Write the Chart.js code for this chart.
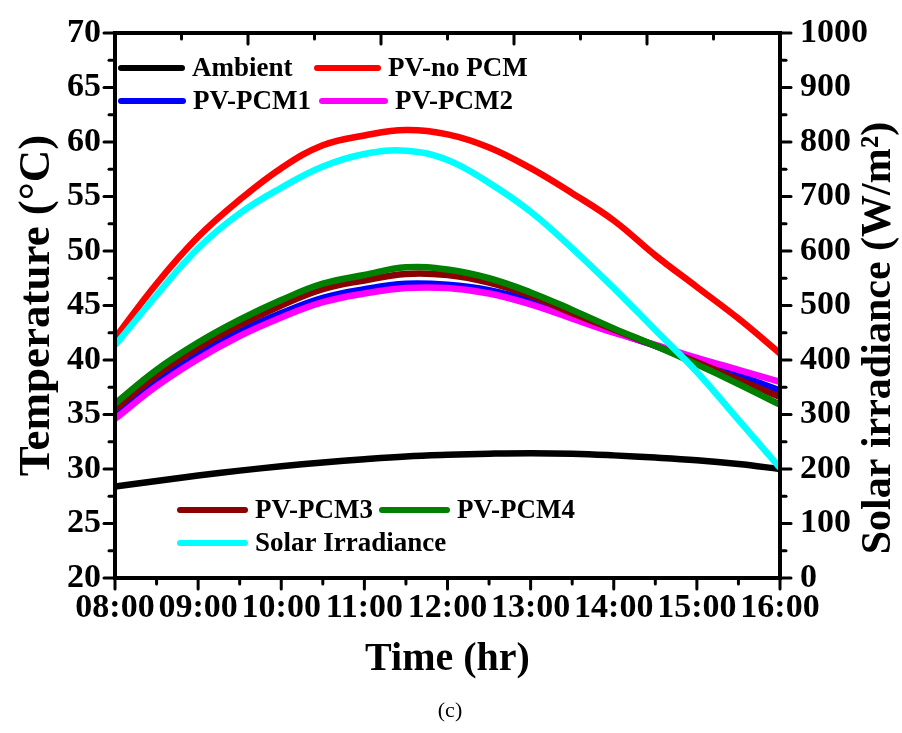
<!DOCTYPE html>
<html>
<head>
<meta charset="utf-8">
<script src="https://cdn.jsdelivr.net/npm/chart.js@4.4.1/dist/chart.umd.min.js"></script>
<style>
  html, body { margin: 0; padding: 0; background: #fff; }
</style>
</head>
<body>
<canvas id="c" width="902" height="733"></canvas>
<script>
// half-hour samples, 08:00 .. 16:00
const hours = [8, 8.5, 9, 9.5, 10, 10.5, 11, 11.5, 12, 12.5, 13, 13.5, 14, 14.5, 15, 15.5, 16];
const timeLabels = ['08:00', '09:00', '10:00', '11:00', '12:00', '13:00', '14:00', '15:00', '16:00'];

const ambient = [28.4, 28.9, 29.4, 29.85, 30.25, 30.6, 30.9, 31.15, 31.3, 31.4, 31.45, 31.4, 31.25, 31.05, 30.8, 30.45, 30.0];
const pvNoPcm = [42.0, 47.0, 51.3, 54.7, 57.6, 59.7, 60.6, 61.1, 60.7, 59.5, 57.6, 55.3, 52.8, 49.6, 46.7, 43.8, 40.6];
const pvPcm1 = [35.0, 38.0, 40.5, 42.6, 44.3, 45.7, 46.5, 47.0, 46.9, 46.4, 45.4, 44.0, 42.6, 41.3, 40.0, 38.6, 37.2];
const pvPcm2 = [34.6, 37.6, 40.1, 42.2, 43.9, 45.3, 46.1, 46.6, 46.6, 46.1, 45.1, 43.8, 42.5, 41.4, 40.2, 39.1, 38.0];
const pvPcm3 = [35.5, 38.6, 41.1, 43.2, 45.0, 46.5, 47.3, 47.9, 47.8, 47.1, 45.9, 44.3, 42.8, 41.3, 39.8, 38.2, 36.6];
const pvPcm4 = [36.0, 39.1, 41.6, 43.7, 45.5, 47.0, 47.8, 48.5, 48.3, 47.5, 46.2, 44.6, 42.9, 41.3, 39.6, 37.8, 35.9];
const solar = [427, 519, 605, 669, 716, 755, 778, 784, 767, 725, 672, 605, 532, 455, 378, 290, 202];

const serif = '"Liberation Serif", "Times New Roman", serif';

function pts(arr) {
  return hours.map((h, i) => ({ x: h, y: arr[i] }));
}

function series(label, arr, color, order, axis) {
  return {
    label: label,
    data: pts(arr),
    borderColor: color,
    backgroundColor: color,
    borderWidth: 6.5,
    pointRadius: 0,
    tension: 0.4,
    yAxisID: axis || 'y',
    order: order
  };
}

// legend boxes drawn by hand: two groups inside the plot
const legendSpots = [
  { i: 0, x: 121, y: 68, w: 61 },
  { i: 1, x: 317, y: 68, w: 61 },
  { i: 2, x: 121, y: 101, w: 62 },
  { i: 3, x: 322, y: 101, w: 63 },
  { i: 4, x: 180, y: 510, w: 65 },
  { i: 5, x: 382, y: 510, w: 65 },
  { i: 6, x: 180, y: 543, w: 65 }
];

// keep the plot box fixed: no extra room above/below for end labels
function fitVertical(width) {
  return s => {
    s.width = width;
    s.paddingTop = 0;
    s.paddingBottom = 0;
  };
}

const framePlugin = {
  id: 'frame',
  afterDatasetsDraw(chart) {
    const { ctx, chartArea: a, scales } = chart;
    const tick = (x1, y1, x2, y2) => {
      ctx.beginPath(); ctx.moveTo(x1, y1); ctx.lineTo(x2, y2); ctx.stroke();
    };
    ctx.save();
    ctx.strokeStyle = '#000';
    ctx.lineWidth = 3;
    ctx.lineCap = 'round';
    hours.forEach(h => {
      const x = scales.x.getPixelForValue(h);
      tick(x, a.bottom, x, a.bottom + (Number.isInteger(h) ? 11 : 6));
    });
    for (let k = 0; k <= 10; k++) {
      const x = scales.x.getPixelForValue(8 + k * 0.8);
      tick(x, a.top, x, a.top + (k % 2 === 0 ? 11 : 6));
    }
    for (let t = 20; t <= 70; t += 2.5) {
      const y = scales.y.getPixelForValue(t);
      tick(a.left - (t % 5 === 0 ? 11 : 6), y, a.left, y);
    }
    for (let v = 0; v <= 1000; v += 50) {
      const y = scales.y1.getPixelForValue(v);
      tick(a.right, y, a.right + (v % 100 === 0 ? 11 : 6), y);
    }
    ctx.lineCap = 'butt';
    ctx.lineWidth = 4;
    ctx.strokeRect(a.left, a.top, a.right - a.left, a.bottom - a.top);
    ctx.restore();
  },
  afterDraw(chart) {
    const { ctx } = chart;
    ctx.save();
    // legend
    ctx.font = 'bold 27px ' + serif;
    ctx.textBaseline = 'middle';
    ctx.textAlign = 'left';
    ctx.lineCap = 'round';
    ctx.lineWidth = 6;
    legendSpots.forEach(s => {
      const ds = chart.data.datasets[s.i];
      ctx.strokeStyle = ds.borderColor;
      ctx.beginPath(); ctx.moveTo(s.x, s.y); ctx.lineTo(s.x + s.w, s.y); ctx.stroke();
      ctx.fillStyle = '#000';
      ctx.fillText(ds.label, s.x + s.w + 10, s.y + 1);
    });
    // right axis title, reading bottom to top
    ctx.font = 'bold 42px ' + serif;
    ctx.textAlign = 'center';
    ctx.translate(879, 338);
    ctx.rotate(-Math.PI / 2);
    ctx.fillText('Solar irradiance (W/m²)', 0, 0);
    ctx.restore();
    // panel label
    ctx.save();
    ctx.font = '22px ' + serif;
    ctx.fillStyle = '#000';
    ctx.textAlign = 'center';
    ctx.textBaseline = 'middle';
    ctx.fillText('(c)', 450, 711);
    ctx.restore();
  }
};

new Chart(document.getElementById('c'), {
  type: 'line',
  data: {
    datasets: [
      series('Ambient', ambient, '#000000', 6),
      series('PV-no PCM', pvNoPcm, '#ff0000', 5),
      series('PV-PCM1', pvPcm1, '#0000ff', 4),
      series('PV-PCM2', pvPcm2, '#ff00ff', 3),
      series('PV-PCM3', pvPcm3, '#8b0000', 2),
      series('PV-PCM4', pvPcm4, '#008000', 1),
      series('Solar Irradiance', solar, '#00ffff', 0, 'y1')
    ]
  },
  options: {
    responsive: false,
    animation: false,
    layout: { padding: { top: 33, left: 0, right: 0, bottom: 49 } },
    plugins: {
      legend: { display: false },
      tooltip: { enabled: false }
    },
    scales: {
      x: {
        type: 'linear',
        min: 8,
        max: 16,
        grid: { display: false, drawTicks: false },
        border: { display: false },
        ticks: {
          stepSize: 1,
          padding: 10,
          autoSkip: false,
          minRotation: 0,
          maxRotation: 0,
          color: '#000',
          font: { family: serif, size: 34, weight: 'bold' },
          callback: (v, i) => timeLabels[i]
        },
        title: {
          display: true,
          text: 'Time (hr)',
          color: '#000',
          padding: 0,
          font: { family: serif, size: 40, weight: 'bold' }
        },
        afterFit: s => { s.height = 106; }
      },
      y: {
        min: 20,
        max: 70,
        grid: { display: false, drawTicks: false },
        border: { display: false },
        ticks: {
          stepSize: 5,
          padding: 14,
          color: '#000',
          font: { family: serif, size: 34, weight: 'bold' }
        },
        title: {
          display: true,
          text: 'Temperature (°C)',
          color: '#000',
          padding: { top: 10, bottom: 0 },
          font: { family: serif, size: 45, weight: 'bold' }
        },
        afterFit: fitVertical(115)
      },
      y1: {
        position: 'right',
        min: 0,
        max: 1000,
        grid: { display: false, drawTicks: false },
        border: { display: false },
        ticks: {
          stepSize: 100,
          padding: 20,
          color: '#000',
          font: { family: serif, size: 34, weight: 'bold' },
          callback: v => String(v)
        },
        afterFit: fitVertical(122)
      }
    }
  },
  plugins: [framePlugin]
});
</script>
</body>
</html>
